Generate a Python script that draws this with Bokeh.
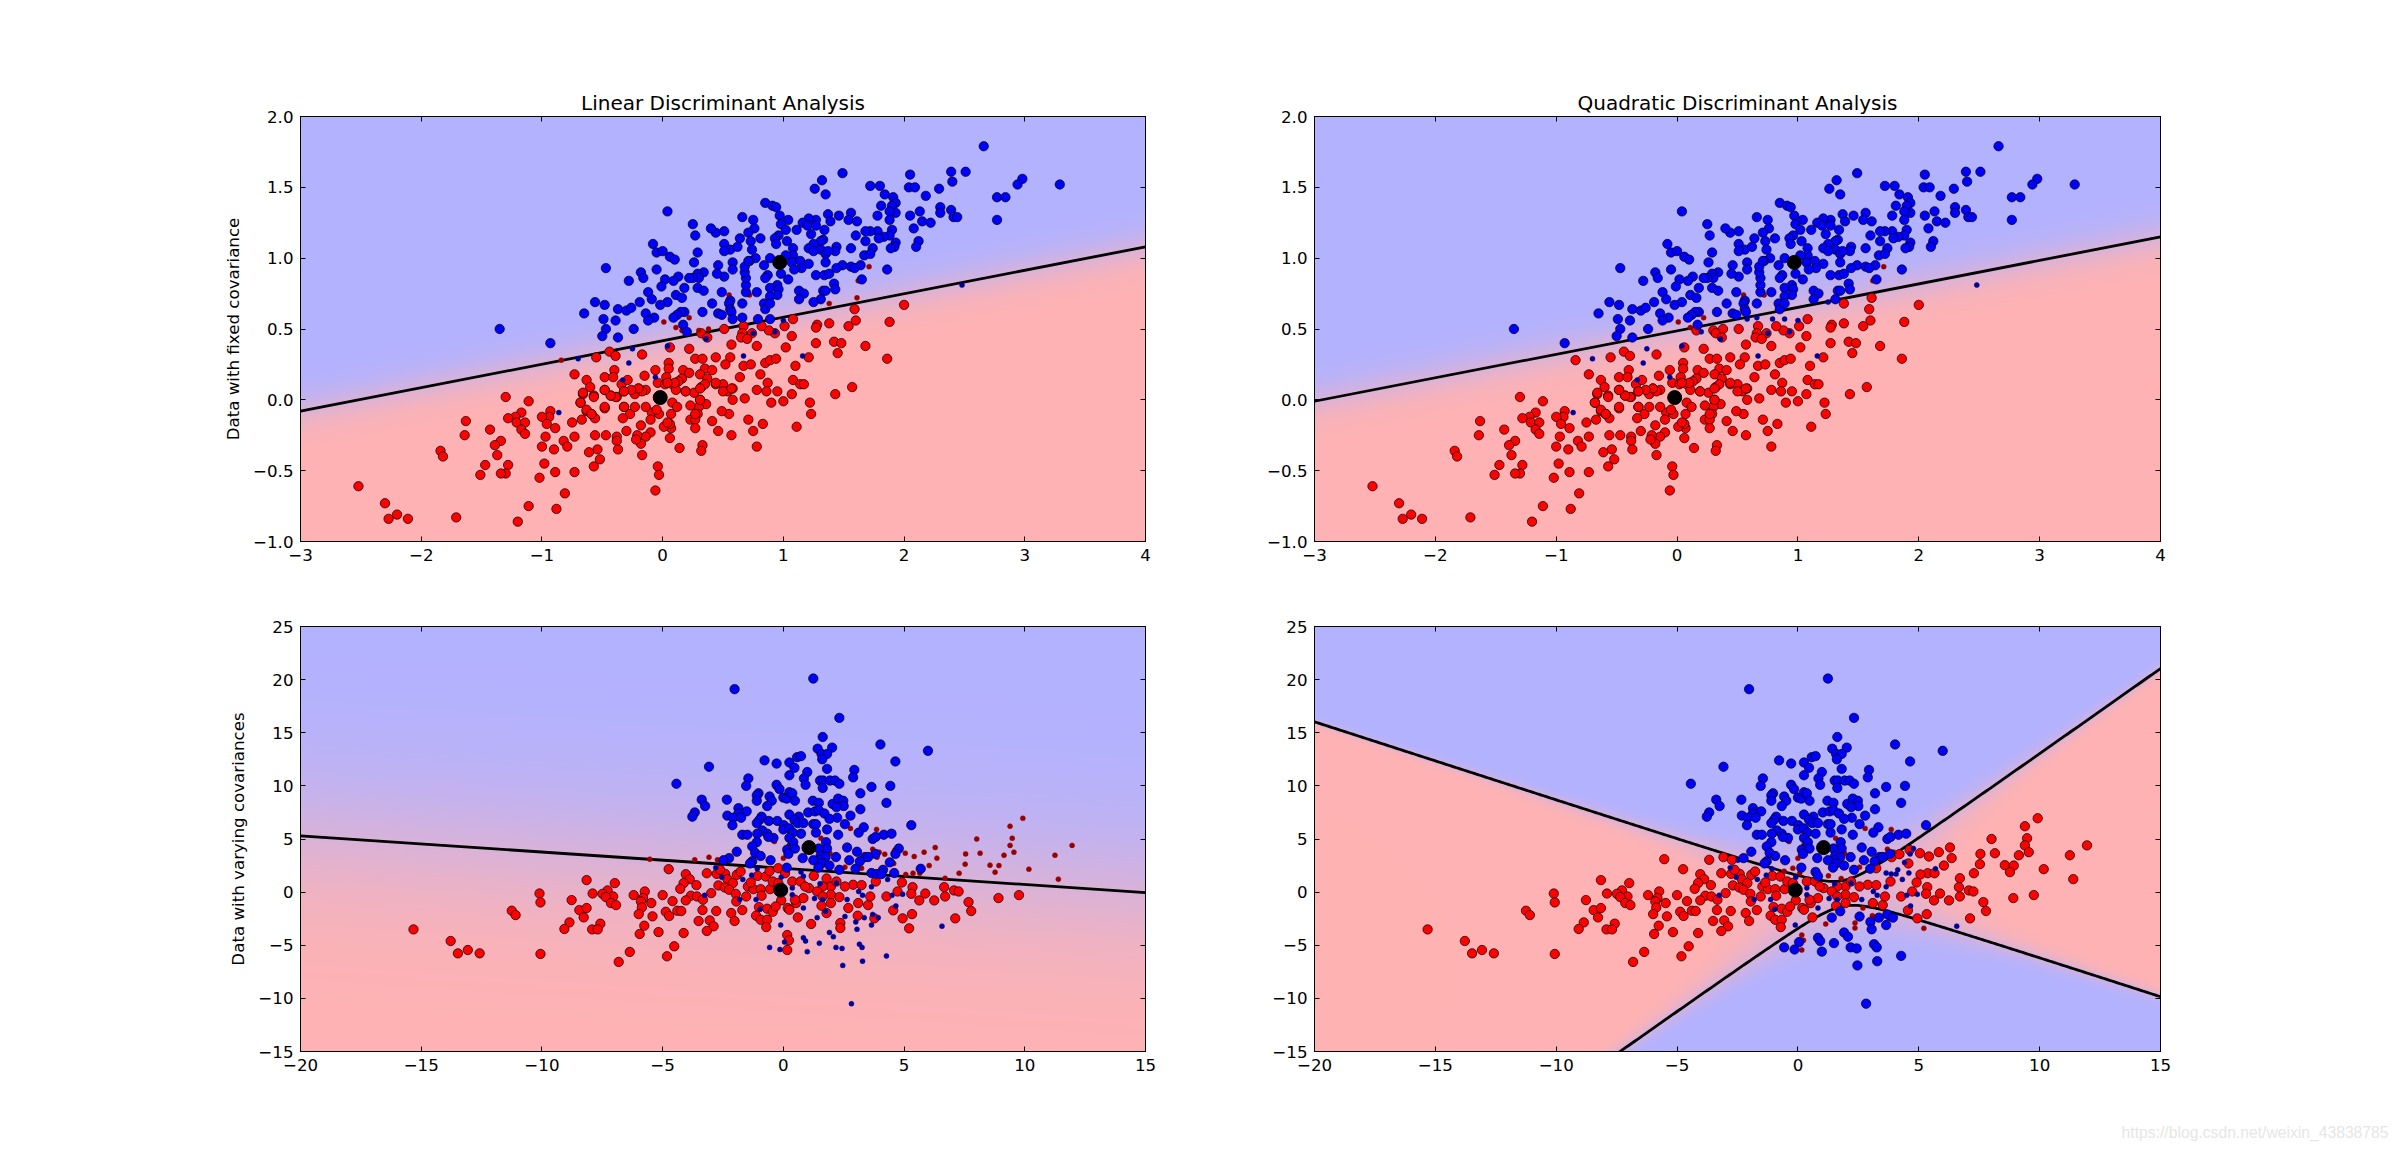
import numpy as np
from bokeh.plotting import figure
from bokeh.layouts import column, row
from bokeh.models import Range1d, LinearAxis, FixedTicker, Title
from bokeh.embed import file_html
from bokeh.resources import INLINE

titles = ["Linear Discriminant Analysis", "Quadratic Discriminant Analysis"]
ylabels = ["Data with fixed covariance", "Data with varying covariances"]
watermark = "https://blog.csdn.net/weixin_43838785"

fixed_x_ticks = [-3, -2, -1, 0, 1, 2, 3, 4]
fixed_y_ticks = [-1.0, -0.5, 0.0, 0.5, 1.0, 1.5, 2.0]
vary_x_ticks = [-20, -15, -10, -5, 0, 5, 10, 15]
vary_y_ticks = [-15, -10, -5, 0, 5, 10, 15, 20, 25]

fixed_means = [(-0.02, 0.016), (0.97, 0.97)]
vary_means = [(-0.11, 0.19), (1.06, 4.19)]

# straight boundaries: value of y at x-range ends, and log-odds steepness
lda_fixed_line = (-0.08, 1.08, 13.6)
qda_fixed_line = (-0.01, 1.15, 13.6)
lda_vary_line = (5.3, -0.05, 0.25)
# hyperbola: two asymptotes (slope, intercept), offset, steepness
qda_vary_hyper = (1.607, -3.11, -0.737, 1.26, 1.47, 0.105)

fixed_class1 = [(2.66,1.79),(2.05,1.59),(2.39,1.61),(2.51,1.61),(1.49,1.60),(1.32,1.55),(1.26,1.49),(1.35,1.45),(1.72,1.51),(1.80,1.51),
(2.04,1.50),(2.09,1.50),(2.29,1.49),(2.40,1.54),(2.98,1.56),(2.94,1.52),(3.29,1.52),(2.77,1.43),(2.84,1.43),(2.18,1.44),
(1.84,1.45),(1.91,1.43),(1.93,1.39),(1.90,1.37),(1.81,1.37),(2.30,1.36),(2.39,1.34),(2.13,1.33),(1.93,1.32),(1.88,1.33),
(2.30,1.32),(2.05,1.30),(1.78,1.30),(1.56,1.32),(1.46,1.30),(1.37,1.31),(0.85,1.39),(0.91,1.37),(0.94,1.36),(0.97,1.30),
(1.04,1.27),(0.04,1.33),(0.66,1.29),(2.41,1.29),(2.44,1.29),(2.77,1.27),(2.15,1.26),(2.22,1.25),(1.88,1.27),(1.61,1.26),
(1.54,1.27),(1.39,1.26),(1.27,1.27),(1.21,1.28),(1.16,1.25),(1.20,1.23),(1.27,1.23),(1.11,1.20),(0.98,1.24),(1.02,1.20),
(0.75,1.27),(0.76,1.21),(0.71,1.18),(0.51,1.19),(0.44,1.18),(0.40,1.21),(0.25,1.24),(0.27,1.16),(0.64,1.14),(0.81,1.14),
(0.96,1.16),(0.93,1.14),(1.03,1.12),(1.23,1.17),(1.34,1.20),(2.08,1.21),(1.90,1.20),(1.78,1.19),(1.72,1.19),(1.68,1.19),
(1.60,1.16),(1.88,1.16),(1.83,1.15),(1.79,1.14),(1.68,1.12),(1.93,1.11),(2.12,1.12),(2.10,1.08),(1.92,1.08),(1.89,1.07),
(1.74,1.07),(1.56,1.07),(1.44,1.08),(1.43,1.05),(1.33,1.13),(1.31,1.12),(1.25,1.10),(1.21,1.07),(1.31,1.06),(1.25,1.05),
(1.35,1.03),(1.37,1.05),(1.08,1.07),(1.08,1.02),(0.94,1.10),(0.73,1.12),(0.74,1.06),(0.51,1.10),(0.56,1.06),(0.51,1.05),
(0.62,1.08),(-0.08,1.10),(-0.05,1.04),(0.0,1.05),(0.06,1.01),(0.10,0.99),(0.29,1.04),(0.26,0.97),(1.67,1.02),(1.72,1.03),
(0.89,1.00),(0.77,1.00),(0.72,0.98),(1.02,1.02),(1.07,0.97),(1.14,0.98),(1.21,0.96),(1.35,0.97),(1.49,0.95),(1.56,0.94),
(1.64,0.95),(1.59,0.93),(1.44,0.93),(1.27,0.88),(1.34,0.88),(1.38,0.89),(1.15,0.93),(1.09,0.92),(0.98,0.89),(1.86,0.92),
(1.65,0.85),(1.42,0.82),(1.43,0.78),(1.33,0.77),(1.35,0.77),(1.31,0.71),(1.25,0.69),(1.13,0.77),(1.17,0.75),(1.13,0.71),
(1.04,0.85),(0.95,0.81),(0.89,0.79),(0.96,0.78),(0.95,0.74),(0.89,0.73),(0.84,0.68),(0.78,0.76),(0.69,0.76),(0.69,0.81),
(0.69,0.86),(0.68,0.90),(0.68,0.94),(0.71,0.98),(0.84,0.95),(0.87,0.88),(0.85,0.86),(0.58,0.97),(0.46,0.95),(0.58,0.92),
(0.51,0.87),(0.45,0.89),(0.34,0.90),(0.29,0.89),(0.30,0.86),(0.25,0.86),(0.22,0.86),(0.13,0.87),(0.09,0.84),(0.02,0.85),
(-0.05,0.92),(-0.18,0.90),(-0.16,0.86),(-0.28,0.84),(-0.47,0.93),(-0.01,0.80),(0.18,0.79),(0.29,0.79),(0.34,0.77),(0.49,0.76),
(-0.12,0.76),(0.11,0.74),(-0.09,0.71),(0.16,0.72),(0.04,0.69),(-0.19,0.69),(-0.02,0.67),(-0.56,0.69),(-0.48,0.67),(-0.37,0.64),
(-0.30,0.63),(-0.26,0.65),(-0.65,0.61),(-0.14,0.61),(0.18,0.62),(0.15,0.62),(0.12,0.60),(0.09,0.58),(0.33,0.62),(0.46,0.61),
(0.41,0.68),(0.56,0.70),(0.55,0.68),(0.56,0.64),(0.57,0.62),(0.66,0.68),(0.85,0.64),(0.89,0.68),(0.49,0.60),(0.66,0.58),
(0.58,0.57),(0.79,0.57),(0.89,0.57),(-0.49,0.57),(-0.39,0.56),(-0.07,0.58),(-0.12,0.56),(0.17,0.53),(-0.47,0.50),(-0.24,0.50),
(-0.50,0.45),(-0.37,0.44),(0.20,0.48),(-1.35,0.50),(-0.93,0.40),
(-0.70,0.29),(-0.25,0.36),(-0.28,0.26),(0.04,0.38),(0.67,0.31),(1.16,0.31),(2.48,0.81),(0.75,0.47),(0.93,0.48),(1.0,0.56),
(0.36,0.43),(-0.06,0.16),(-0.33,0.14),(-0.86,-0.09)]

fixed_class0 = [(1.71,0.94),(1.62,0.84),(1.61,0.72),(1.38,0.68),(0.55,0.74),(0.72,0.74),(0.01,0.55),(0.22,0.58),(0.11,0.51),(0.16,0.49),
(0.30,0.49),(0.38,0.50),(0.51,0.50),(-0.84,0.28),(0.32,0.47),
(2.0,0.67),(1.59,0.64),(1.60,0.56),(1.88,0.55),(1.54,0.52),(1.38,0.54),(1.28,0.53),(1.27,0.51),(1.08,0.57),(1.01,0.52),
(1.07,0.45),(0.93,0.47),(0.88,0.49),(0.82,0.52),(0.74,0.47),(0.67,0.52),(0.66,0.47),(0.65,0.44),(0.70,0.43),(1.27,0.40),
(1.42,0.41),(1.48,0.40),(1.68,0.38),(1.45,0.33),(1.86,0.29),(1.21,0.30),(1.02,0.37),(0.78,0.38),(0.57,0.39),(0.37,0.44),
(0.22,0.36),(0.06,0.37),(-0.17,0.32),(-0.44,0.34),(-0.39,0.31),(-0.55,0.30),(0.27,0.29),(0.33,0.29),(0.44,0.30),(0.56,0.30),
(0.52,0.25),(0.67,0.24),(0.73,0.25),(0.85,0.26),(0.89,0.28),(0.94,0.29),(1.10,0.24),(0.05,0.26),(0.05,0.22),(-0.06,0.21),
(-0.40,0.21),(0.35,0.22),(0.41,0.21),(0.17,0.21),(0.22,0.19),(0.31,0.18),(-0.15,0.17),(0.03,0.16),(0.16,0.15),(0.37,0.15),
(0.64,0.16),(0.81,0.18),(-0.73,0.18),(-0.63,0.14),(-0.48,0.16),(-0.41,0.16),(-0.34,0.11),(-0.29,0.14),(-0.60,0.09),(-0.48,0.07),
(-0.66,0.04),(-0.57,0.03),(-0.43,0.03),(-0.38,0.02),(-0.32,0.06),(-0.20,0.08),(-0.23,0.04),(-0.14,0.07),(-0.04,0.12),(0.02,0.11),
(0.08,0.11),(0.13,0.13),(0.11,0.07),(0.19,0.06),(0.26,0.05),(0.32,0.09),(0.35,0.11),(0.44,0.11),(0.50,0.11),(0.54,0.06),
(0.58,0.08),(0.58,0.0),(0.68,0.01),(0.78,0.07),(0.87,0.12),(0.86,0.06),(0.95,0.06),(0.90,-0.02),(1.0,-0.01),(1.07,0.04),
(1.08,0.14),(1.14,0.11),(1.17,0.11),(1.22,-0.02),(1.43,0.04),(1.57,0.09),(1.23,-0.10),(1.11,-0.19),(0.83,-0.17),(0.71,-0.14),
(0.55,-0.10),(0.49,-0.08),(0.41,-0.15),(0.36,-0.03),(0.31,0.0),(0.30,-0.05),(0.29,-0.10),(0.23,-0.04),(0.23,-0.14),(0.27,-0.14),
(0.27,-0.20),(0.46,-0.22),(0.57,-0.25),(0.75,-0.22),(0.78,-0.33),(0.33,-0.32),(0.32,-0.36),(0.14,-0.34),(0.06,-0.27),(0.07,-0.20),
(0.06,-0.17),(0.01,-0.19),(0.07,-0.10),(0.08,-0.02),(-0.09,-0.09),(-0.03,-0.10),(-0.10,-0.14),(-0.18,-0.18),(-0.10,-0.23),(-0.14,-0.26),
(-0.21,-0.25),(-0.18,-0.31),(-0.22,-0.28),(-0.30,-0.22),(-0.27,-0.10),(-0.33,-0.13),(-0.32,-0.05),(-0.48,-0.06),(-0.56,-0.13),(-0.59,-0.10),
(-0.63,-0.08),(-0.67,-0.14),(-0.75,-0.16),(-0.68,-0.02),(-0.93,-0.08),(-0.94,-0.12),(-1.0,-0.12),(-0.96,-0.17),(-0.89,-0.20),(-0.97,-0.26),
(-1.11,-0.01),(-1.30,0.02),(-1.17,-0.09),(-1.22,-0.12),(-1.28,-0.13),(-1.21,-0.16),(-1.14,-0.16),(-1.17,-0.21),(-1.14,-0.24),(-1.63,-0.15),
(-1.43,-0.21),(-1.64,-0.25),(-1.34,-0.29),(-1.39,-0.32),(-1.37,-0.39),(-1.84,-0.36),(-1.82,-0.40),(-1.47,-0.46),(-1.28,-0.46),(-1.30,-0.52),
(-1.34,-0.52),(-1.51,-0.53),(-0.98,-0.45),(-0.89,-0.51),(-0.73,-0.51),(-1.02,-0.55),(-1.0,-0.33),(-0.90,-0.35),(-0.82,-0.29),(-0.79,-0.33),
(-0.73,-0.26),(-0.56,-0.25),(-0.47,-0.25),(-0.38,-0.26),(-0.38,-0.29),(-0.37,-0.35),(-0.54,-0.35),(-0.61,-0.37),(-0.52,-0.42),(-0.57,-0.47),
(-0.17,-0.39),(-0.04,-0.47),(-0.03,-0.53),(-0.06,-0.64),(-0.81,-0.66),(-2.52,-0.61),(-2.30,-0.73),(-2.20,-0.81),(-2.27,-0.84),(-2.11,-0.84),
(-1.71,-0.83),(-1.11,-0.75),(-1.20,-0.86),(-0.88,-0.77),
(-0.17,0.06),(-0.20,0.08),(-0.26,0.07),(-0.32,0.06),(-0.39,0.02),(-0.43,0.03),(-0.48,0.07),(-0.57,0.02),(-0.66,0.05),(-0.68,-0.02),
(-0.63,-0.07),(-0.59,-0.10),(-0.48,-0.05),(-0.32,-0.05),(-0.23,-0.05),(-0.14,-0.05),(-0.05,-0.07),(0.04,-0.16),(0.12,-0.05),(0.19,0.06),
(0.31,0.08),(0.44,0.12),(0.50,0.06),(0.57,0.08),(0.31,0.0),(0.27,-0.10),(0.10,0.12),(0.04,0.12)]

vary_class1 = [(1.24,20.1),(-2.02,19.1),(2.32,16.4),(1.63,14.6),(1.42,13.5),(2.02,13.6),(4.02,13.9),(5.99,13.3),(1.58,13.0),(1.81,13.0),
(1.61,12.5),(0.57,12.7),(0.73,12.8),(-0.78,12.4),(-0.28,12.1),(0.25,12.2),(0.46,11.7),(1.81,11.6),(4.64,12.3),(-3.08,11.8),
(2.94,11.5),(0.99,11.3),(0.25,11.0),(0.85,10.7),(2.89,10.8),(-1.45,10.7),(-1.54,10.0),(-4.43,10.2),(-0.28,10.1),(-0.16,9.7),
(0.92,10.1),(1.52,10.5),(1.65,10.5),(1.93,10.5),(2.14,10.5),(2.32,10.2),(1.63,9.8),(3.65,9.9),(4.43,10.0),(3.19,9.3),
(-1.03,9.3),(-1.10,9.1),(-1.10,8.6),(-0.57,9.0),(-0.48,8.6),(-0.67,8.1),(0.0,8.9),(0.14,8.8),(0.25,9.4),(0.37,9.3),
(0.48,8.6),(-3.38,8.7),(-3.24,8.1),(-2.34,8.7),(1.22,8.6),(1.47,8.4),(2.04,8.3),(2.27,8.8),(2.48,8.6),(2.50,8.1),
(2.20,8.0),(4.27,8.4),(3.19,7.8),(-1.86,7.9),(-1.52,7.6),(-1.86,7.4),(-2.32,7.2),(-2.07,7.0),(-1.75,7.0),(-3.67,7.5),
(-3.77,7.1),(1.03,7.5),(1.31,7.6),(1.47,7.7),(1.70,7.4),(2.78,7.2),(2.23,7.0),(1.91,6.9),(0.25,7.3),(0.64,7.1),
(-0.90,7.1),(-0.99,6.8),(-1.10,6.5),(-0.60,6.7),(-0.25,6.7),(0.46,6.8),(0.60,6.5),(0.83,6.5),(1.24,6.4),(1.35,6.4),
(2.55,6.4),(5.30,6.3),(3.33,6.1),(-2.11,6.3),(0.02,6.3),(0.0,5.9),(0.25,6.0),(0.39,5.6),(0.73,5.5),(-0.87,5.8),
(-0.67,5.5),(-1.70,5.4),(-1.49,5.4),(-1.08,5.5),(-0.41,5.1),(-0.62,5.2),(0.25,5.1),(1.35,5.6),(1.81,5.9),(2.27,5.4),
(3.12,5.6),(4.16,5.4),(4.48,5.5),(3.70,5.0),(3.83,5.2),(-1.10,4.7),(0.41,4.7),(1.77,4.7),(2.64,4.2),(4.78,4.1),
(-1.29,4.3),(0.16,4.0),(0.48,4.1),(0.21,3.6),(1.81,4.1),(1.47,4.1),(3.05,3.8),(-1.93,3.8),(-1.17,3.7),(-0.94,3.4),
(3.81,3.6),(4.64,3.6),(3.38,3.3),(3.51,3.3),(0.80,3.2),(1.54,3.4),(1.75,3.3),(2.18,3.3),(2.73,3.0),(3.17,2.9),
(1.52,3.0),(1.24,3.0),(-0.53,3.0),(-2.25,3.2),(-2.48,3.0),(-1.29,2.9),(-1.38,2.7),(1.58,2.7),(1.91,2.5),(0.14,2.3),
(1.45,2.3),(2.32,2.1),(2.99,2.2),(4.13,2.1),(4.41,2.8),(5.69,2.2),(3.65,1.8),(3.86,1.7),(4.06,1.7),(4.59,1.8),
(-2.80,2.3),(-2.55,1.4),(-1.31,1.6),(-1.68,1.2),(-1.08,2.2),(-0.09,1.4),(0.73,1.9),(0.83,1.5),(0.37,-0.25),(-1.13,-0.7),
(-3.26,-0.3),(-1.81,-0.7),(-0.96,-1.6),(0.37,0.4),(1.52,0.8),(2.2,0.85),(2.64,-0.7),(3.12,0.06),(3.28,-0.3),(3.65,0.5),
(4.32,1.2),(4.5,-0.3),(4.94,-0.2),(4.66,-1.3),(1.29,-0.6),(1.63,-0.7),(0.83,-1.5),(1.40,-2.4),(1.75,-1.8),(2.55,-2.3),
(3.0,-2.8),(3.35,-2.4),(3.70,-2.1),(3.93,-2.4),(3.65,-3.1),(3.05,-3.5),(6.57,-3.2),(-0.11,-3.1),(1.91,-3.8),(2.07,-4.2),
(0.83,-4.3),(0.92,-4.6),(0.05,-4.7),(1.49,-4.8),(3.15,-4.9),(3.26,-5.2),(2.18,-5.2),(2.43,-5.3),(-0.57,-5.2),(-0.14,-5.4),
(0.99,-5.6),(3.28,-6.5),(4.27,-6.0),(2.46,-6.9),(2.82,-10.5)]

vary_class0 = [(9.92,6.95),(9.39,6.2),(9.48,5.07),(8.01,5.0),(9.39,4.4),(11.96,4.4),(6.29,4.2),(7.55,3.6),(8.15,3.66),(9.55,3.76),
(9.14,3.47),(11.25,3.47),(6.36,3.2),(5.83,3.76),(5.42,3.35),(5.05,3.66),(6.04,2.5),(7.53,2.63),(8.56,2.54),(8.93,2.5),
(10.17,2.16),(8.77,1.88),(7.28,1.78),(5.37,1.78),(5.07,1.66),(5.65,1.78),(6.70,1.31),(11.39,1.22),(3.86,5.9),(2.78,6.0),
(3.88,3.29),(4.2,3.57),(4.62,3.97),(3.70,4.04),(3.97,3.76),(2.55,2.35),(3.24,2.25),(4.57,2.7),(1.93,3.66),(1.56,5.07),
(0.0,3.19),(-0.37,4.76),(-3.67,3.04),(-3.08,3.29),(-2.73,3.04),(0.25,4.44),(-0.21,2.25),(3.51,3.5),
(-5.53,3.1),(-4.75,2.16),(-4.04,1.69),(-3.88,1.22),(-4.13,0.85),(-4.27,0.31),(-3.6,0.66),(-3.17,1.78),(-2.76,1.72),(-2.41,1.72),
(-2.62,2.1),(-2.32,1.22),(-2.69,0.63),(-2.43,0.44),(-2.09,0.85),(-1.93,1.63),(-1.77,1.94),(-2.25,0.22),(-1.97,-0.16),(-2.99,-0.09),
(-3.83,-0.34),(-3.58,-0.41),(-3.33,-0.72),(-4.04,-0.78),(-4.59,-0.85),(-5.0,-0.28),(-5.74,0.06),(-6.2,-0.28),(-5.81,-0.56),(-5.9,-0.88),
(-5.47,-1.03),(-5.86,-1.44),(-5.99,-2.07),(-5.42,-2.28),(-4.87,-1.85),(-4.73,-2.25),(-4.39,-1.75),(-4.23,-1.78),(-3.35,-1.69),(-2.78,-1.78),
(-2.16,-1.97),(-1.70,-1.69),(-2.02,-2.72),(-3.05,-2.66),(-3.51,-2.72),(-2.89,-3.22),(-3.17,-3.66),(-4.13,-3.85),(-5.17,-3.76),(-5.76,-3.16),
(-5.95,-3.94),(-6.36,-5.63),(-6.82,-6.57),(-4.82,-6.04),(-4.52,-5.1),(-6.98,0.85),(-7.28,0.16),(-7.49,-0.16),(-7.9,-0.13),(-8.15,1.13),
(-7.05,-0.41),(-7.35,-0.47),(-7.14,-1.03),(-6.93,-1.22),(-8.77,-0.75),(-10.1,-0.13),(-10.06,-0.97),(-11.25,-1.75),(-11.09,-2.16),(-8.45,-1.69),
(-8.15,-1.5),(-8.27,-2.38),(-8.86,-2.85),(-9.07,-3.47),(-7.58,-2.97),(-7.92,-3.51),(-7.69,-3.51),(-15.32,-3.51),(-13.78,-4.6),(-13.48,-5.76),
(-13.07,-5.45),(-12.58,-5.76),(-10.06,-5.82),(-1.06,1.53),(-0.73,1.47),(-0.57,1.97),(0.07,1.78),(-1.47,0.53),(-1.24,0.28),(-0.94,0.28),
(-1.35,0.91),(-1.54,-0.41),(-0.9,-0.34),(-0.55,0.28),(-1.95,-0.88),(-1.01,-1.41),(-0.67,-1.56),(-0.44,-1.85),(-1.13,-2.22),(-0.94,-2.6),
(-0.67,-2.6),(-0.71,-3.29),(-0.09,-0.78),(0.18,-1.5),(0.53,-1.03),(0.6,-2.38),(1.15,-3.0),(0.16,-4.04),(0.23,-4.54),(0.16,-5.45),
(0.37,1.0),(0.71,1.0),(1.06,0.38),(1.26,1.53),(1.79,1.28),(1.97,0.53),(1.63,0.53),(1.97,-0.25),(1.58,-1.28),(1.97,-1.03),
(1.79,-1.97),(2.32,-0.47),(2.36,-2.91),(2.36,-3.38),(2.69,-1.5),(3.1,-1.03),(3.51,-1.22),(3.6,-0.41),(2.89,0.69),(3.24,0.66),
(3.83,1.0),(3.08,-2.22),(3.77,-2.47),(4.27,-0.41),(4.73,0.06),(4.91,0.91),(4.55,-1.72),(4.94,-2.47),(5.21,-3.41),(5.35,0.47),
(5.30,-0.16),(5.33,-2.07),(5.63,-0.78),(5.88,-0.13),(6.25,-0.78),(6.66,0.47),(6.70,-0.41),(7.07,0.16),(7.26,0.06),(7.12,-2.47),
(7.67,-0.94),(7.78,-1.78),(8.91,-0.56),(9.76,-0.28),(-0.44,1.0),(-0.21,0.85),(0.9,0.53),(1.4,0.06),(2.55,0.53),(2.2,1.0),
(1.63,-0.41),(0.25,-1.66),(0.83,-0.56),(0.48,-0.72),(-0.32,-1.35)]


def fmt(v, dec):
    s = f"{abs(v):.{dec}f}"
    return ("\u2212" + s) if v < 0 else s


def line_field(params, xlim):
    y0, y1, k = params
    slope = (y1 - y0) / (xlim[1] - xlim[0])
    return lambda x, y: k * (y - (y0 + slope * (x - xlim[0])))


def hyper_field(params):
    m1, c1, m2, c2, d, k = params
    return lambda x, y: k * ((y - m1 * x - c1) * (y - m2 * x - c2) - d)


def make_panel(xlim, ylim, xticks, yticks, ydec, field, class0, class1, means, boundary,
               title, ylabel, left, right, top, bottom, fw, fh):
    p = figure(frame_width=fw, frame_height=fh, output_backend="svg", toolbar_location=None,
               x_range=Range1d(*xlim), y_range=Range1d(*ylim),
               min_border_left=left, min_border_right=right, min_border_top=top, min_border_bottom=bottom,
               x_axis_type=None, y_axis_type=None, background_fill_color="white", border_fill_color="white")
    p.grid.visible = False
    p.outline_line_color = "black"
    p.outline_line_width = 1

    # background probability
    gx = np.linspace(xlim[0], xlim[1], 424)
    gy = np.linspace(ylim[0], ylim[1], 213)
    xx, yy = np.meshgrid(gx, gy)
    prob = 1.0 / (1.0 + np.exp(-np.clip(field(xx, yy), -40, 40)))
    rgba = np.zeros(prob.shape + (4,), dtype=np.uint8)
    rgba[..., 0] = np.round(255 - 76.5 * prob)
    rgba[..., 1] = 178
    rgba[..., 2] = np.round(178.5 + 76.5 * prob)
    rgba[..., 3] = 255
    img = rgba.view(np.uint32).reshape(prob.shape)
    p.image_rgba(image=[img], x=xlim[0], y=ylim[0], dw=xlim[1] - xlim[0], dh=ylim[1] - ylim[0])

    # boundary
    for bx, by in boundary:
        p.line(bx, by, line_color="black", line_width=2.8)

    # points
    a = np.array(class0)
    b = np.array(class1)
    fa = field(a[:, 0], a[:, 1])
    fb = field(b[:, 0], b[:, 1])
    ok0, bad0 = a[fa <= 0], a[fa > 0]
    ok1, bad1 = b[fb >= 0], b[fb < 0]
    p.scatter(ok0[:, 0], ok0[:, 1], size=9.4, fill_color="#ff0000", line_color="black", line_width=0.7)
    p.scatter(bad0[:, 0], bad0[:, 1], size=5, fill_color="#990000", line_color="#990000", line_width=0.5)
    p.scatter(ok1[:, 0], ok1[:, 1], size=9.4, fill_color="#0000ff", line_color="black", line_width=0.7)
    p.scatter(bad1[:, 0], bad1[:, 1], size=5, fill_color="#000099", line_color="#000099", line_width=0.5)
    m = np.array(means)
    p.scatter(m[:, 0], m[:, 1], size=14, fill_color="black", line_color="black", line_width=1)

    # axes with ticks on all four sides
    xlabels = {t: fmt(t, 0) for t in xticks}
    ylabs = {t: fmt(t, ydec) for t in yticks}
    def style(ax, ticks):
        ax.ticker = FixedTicker(ticks=ticks)
        ax.axis_line_color = "black"
        ax.axis_line_width = 1
        ax.major_tick_line_color = "black"
        ax.major_tick_line_width = 1
        ax.major_tick_in = 5
        ax.major_tick_out = 0
        ax.minor_tick_line_color = None
        ax.major_label_text_font = "DejaVu Sans"
        ax.major_label_text_font_size = "16.67px"
        ax.major_label_text_color = "black"
    bottom_ax = LinearAxis(); style(bottom_ax, xticks)
    bottom_ax.major_label_overrides = xlabels
    bottom_ax.major_label_standoff = 7
    p.add_layout(bottom_ax, "below")
    left_ax = LinearAxis(); style(left_ax, yticks)
    left_ax.major_label_overrides = ylabs
    left_ax.major_label_standoff = 7
    if ylabel:
        left_ax.axis_label = ylabel
        left_ax.axis_label_text_font = "DejaVu Sans"
        left_ax.axis_label_text_font_size = "16.67px"
        left_ax.axis_label_text_font_style = "normal"
        left_ax.axis_label_text_color = "black"
        left_ax.axis_label_standoff = 7
    p.add_layout(left_ax, "left")
    for side, ticks in (("above", xticks), ("right", yticks)):
        ax = LinearAxis(); style(ax, ticks)
        ax.major_label_text_font_size = "0px"
        ax.major_label_text_color = None
        ax.major_label_standoff = 0
        p.add_layout(ax, side)

    if title:
        p.title.text = title
        p.title.text_font = "DejaVu Sans"
        p.title.text_font_size = "20px"
        p.title.text_font_style = "normal"
        p.title.text_color = "black"
        p.title.align = "center"
        p.title.standoff = 4
    return p


fixed_xlim, fixed_ylim = (-3, 4), (-1, 2)
vary_xlim, vary_ylim = (-20, 15), (-15, 25)

def straight(params, xlim):
    return [([xlim[0], xlim[1]], [params[0], params[1]])]

def hyperbola(params, xlim):
    m1, c1, m2, c2, d, k = params
    xs = np.linspace(xlim[0], xlim[1], 400)
    a_, b_ = m1 * xs + c1, m2 * xs + c2
    mid, half = (a_ + b_) / 2, (a_ - b_) / 2
    root = np.sqrt(half ** 2 + d)
    return [(xs, mid + root), (xs, mid - root)]

p1 = make_panel(fixed_xlim, fixed_ylim, fixed_x_ticks, fixed_y_ticks, 1, line_field(lda_fixed_line, fixed_xlim),
                fixed_class0, fixed_class1, fixed_means, straight(lda_fixed_line, fixed_xlim),
                titles[0], ylabels[0], 300, 85, 116, 42, 845, 425)
p2 = make_panel(fixed_xlim, fixed_ylim, fixed_x_ticks, fixed_y_ticks, 1, line_field(qda_fixed_line, fixed_xlim),
                fixed_class0, fixed_class1, fixed_means, straight(qda_fixed_line, fixed_xlim),
                titles[1], None, 84, 240, 116, 42, 846, 425)
p3 = make_panel(vary_xlim, vary_ylim, vary_x_ticks, vary_y_ticks, 0, line_field(lda_vary_line, vary_xlim),
                vary_class0, vary_class1, vary_means, straight(lda_vary_line, vary_xlim),
                None, ylabels[1], 300, 85, 43, 117, 845, 425)
p4 = make_panel(vary_xlim, vary_ylim, vary_x_ticks, vary_y_ticks, 0, hyper_field(qda_vary_hyper),
                vary_class0, vary_class1, vary_means, hyperbola(qda_vary_hyper, vary_xlim),
                None, None, 84, 240, 43, 117, 846, 425)

p4.add_layout(Title(text=watermark, align="right", offset=-228, standoff=96,
                    text_font="Liberation Sans", text_font_size="15.7px", text_font_style="normal",
                    text_color="#e6e6e6"), "below")

layout = column(row(p1, p2, spacing=0), row(p3, p4, spacing=0), spacing=0)
open("out.html", "w").write(file_html(layout, INLINE))
